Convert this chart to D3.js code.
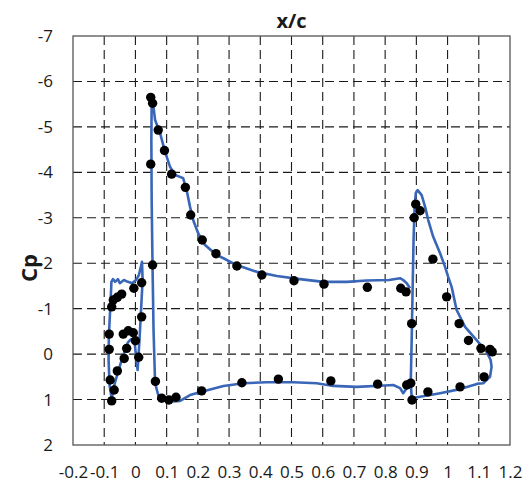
<!DOCTYPE html>
<html>
<head>
<meta charset="utf-8">
<script src="https://cdn.jsdelivr.net/npm/d3@7"></script>
<style>
  html, body { margin: 0; padding: 0; background: #fff; }
  svg { display: block; font-family: "Open Sans", "Noto Sans", sans-serif; }
</style>
</head>
<body>
<svg id="chart" width="526" height="484"></svg>
<script>
// Pressure coefficient around a three-element airfoil (slat, main, flap)

const xTicks = [-0.2, -0.1, 0, 0.1, 0.2, 0.3, 0.4, 0.5, 0.6, 0.7, 0.8, 0.9, 1, 1.1, 1.2];
const yTicks = [-7, -6, -5, -4, -3, -2, -1, 0, 1, 2];

// Computed Cp curves, [x/c, Cp]
const slatCurve = [
  [-0.076, 0.97], [-0.083, 0.68], [-0.086, 0.13], [-0.085, -0.42], [-0.081, -0.97],
  [-0.078, -1.41], [-0.077, -1.59], [-0.072, -1.65], [-0.065, -1.59], [-0.056, -1.65],
  [-0.050, -1.56], [-0.037, -1.63], [-0.024, -1.59], [-0.011, -1.56], [0.002, -1.63],
  [0.011, -1.74], [0.018, -1.94], [0.021, -2.03], [0.023, -1.63], [0.018, -0.97],
  [0.013, -0.31], [0.007, 0.35], [0.000, -0.09], [-0.003, -0.29], [-0.014, -0.33],
  [-0.024, -0.26], [-0.033, -0.09], [-0.049, 0.24], [-0.065, 0.61], [-0.076, 0.97]
];

const mainCurve = [
  [0.880, 0.64], [0.869, 0.75], [0.858, 0.86], [0.848, 0.75], [0.826, 0.68],
  [0.799, 0.69], [0.709, 0.72], [0.634, 0.70], [0.581, 0.64], [0.506, 0.62],
  [0.421, 0.62], [0.346, 0.64], [0.282, 0.70], [0.212, 0.83], [0.175, 0.90],
  [0.143, 1.03], [0.111, 1.05], [0.084, 1.01], [0.073, 0.90], [0.063, 0.64],
  [0.058, -0.53], [0.055, -1.85], [0.052, -3.39], [0.051, -4.71], [0.052, -5.48],
  [0.055, -5.59], [0.063, -5.15], [0.079, -4.86], [0.095, -4.45], [0.111, -4.12],
  [0.127, -3.94], [0.143, -3.90], [0.153, -3.87], [0.164, -3.61], [0.175, -3.24],
  [0.185, -2.95], [0.201, -2.66], [0.223, -2.40], [0.260, -2.18], [0.282, -2.11],
  [0.324, -1.96], [0.389, -1.81], [0.453, -1.72], [0.527, -1.65], [0.602, -1.59],
  [0.677, -1.59], [0.741, -1.62], [0.813, -1.63], [0.848, -1.67], [0.858, -1.63],
  [0.869, -1.56], [0.880, -1.45]
];

const flapCurve = [
  [0.885, 0.94], [0.882, 0.64], [0.885, -0.31], [0.888, -1.41], [0.891, -2.51],
  [0.894, -3.17], [0.898, -3.54], [0.904, -3.61], [0.917, -3.50], [0.928, -3.24],
  [0.938, -2.95], [0.954, -2.58], [0.976, -2.22], [0.992, -1.92], [1.002, -1.70],
  [1.013, -1.48], [1.029, -0.97], [1.056, -0.60], [1.093, -0.31], [1.125, -0.05],
  [1.138, 0.13], [1.141, 0.28], [1.136, 0.50], [1.114, 0.64], [1.097, 0.65],
  [1.040, 0.77], [0.976, 0.86], [0.912, 0.94], [0.885, 0.97]
];

// Measured Cp, [x/c, Cp]
const measuredX = [
  0.055, 0.020, -0.005, -0.044, -0.058, -0.071, -0.076, 0.020, -0.084, -0.039,
  -0.023, -0.007, 0.000, -0.084, -0.028, 0.0105, -0.036, -0.058, -0.081, -0.068,
  -0.076,
  0.064, 0.084, 0.107, 0.130, 0.212, 0.341, 0.458, 0.626, 0.776, 0.869,
  0.882, 0.886, 0.049, 0.055, 0.073, 0.093, 0.049, 0.116, 0.160, 0.177,
  0.214, 0.258, 0.325, 0.405, 0.508, 0.604, 0.743, 0.850, 0.867,
  0.898, 0.912, 0.893, 0.953, 0.997, 0.885, 1.037, 1.067, 1.107, 1.136,
  1.143, 1.117, 1.040, 0.937
];
const measuredCp = [
  -1.96, -1.57, -1.45, -1.32, -1.25, -1.19, -1.04, -0.82, -0.44, -0.44,
  -0.515, -0.47, -0.295, -0.105, -0.127, 0.07, 0.095, 0.37, 0.57, 0.79,
  1.03,
  0.60, 0.97, 1.01, 0.95, 0.81, 0.63, 0.55, 0.59, 0.66, 0.68,
  0.64, 1.01, -5.65, -5.52, -4.93, -4.48, -4.18, -3.96, -3.67, -3.06,
  -2.51, -2.21, -1.94, -1.74, -1.615, -1.54, -1.47, -1.45, -1.37,
  -3.30, -3.155, -3.00, -2.09, -1.26, -0.67, -0.67, -0.30, -0.127, -0.105,
  -0.05, 0.50, 0.72, 0.83
];

const plot = { left: 73, right: 510, top: 36, bottom: 445 };

const x = d3.scaleLinear().domain([-0.2, 1.2]).range([plot.left, plot.right]);
const y = d3.scaleLinear().domain([-7, 2]).range([plot.top, plot.bottom]);

const svg = d3.select("#chart");

// dashed grid
const grid = svg.append("g").attr("stroke", "#1a1a1a").attr("stroke-width", 1.1)
  .attr("stroke-dasharray", "9,5").attr("fill", "none");
grid.selectAll("line.v").data(xTicks.slice(1, -1)).join("line")
  .attr("x1", d => x(d)).attr("x2", d => x(d))
  .attr("y1", plot.top).attr("y2", plot.bottom);
grid.selectAll("line.h").data(yTicks.slice(1, -1)).join("line")
  .attr("y1", d => y(d)).attr("y2", d => y(d))
  .attr("x1", plot.left).attr("x2", plot.right);

// plot frame
svg.append("rect")
  .attr("x", plot.left).attr("y", plot.top)
  .attr("width", plot.right - plot.left).attr("height", plot.bottom - plot.top)
  .attr("fill", "none").attr("stroke", "#555").attr("stroke-width", 1.3);

// axes (labels only)
const xAxis = svg.append("g").attr("transform", `translate(0,${plot.bottom})`)
  .call(d3.axisBottom(x).tickValues(xTicks).tickSize(0).tickPadding(21).tickFormat(d => String(d)));
const yAxis = svg.append("g").attr("transform", `translate(${plot.left},0)`)
  .call(d3.axisLeft(y).tickValues(yTicks).tickSize(0).tickPadding(20).tickFormat(d => String(d)));
[xAxis, yAxis].forEach(a => {
  a.select(".domain").remove();
  a.attr("font-size", 17).attr("font-family", "'Open Sans', sans-serif");
  a.selectAll("text").attr("fill", "#1a1a1a");
});

// axis titles
svg.append("text").attr("x", (plot.left + plot.right) / 2).attr("y", 28)
  .attr("text-anchor", "middle").attr("font-size", 20).attr("font-weight", "bold")
  .attr("fill", "#1a1a1a").text("x/c");
svg.append("text").attr("transform", "translate(37,268) rotate(-90)")
  .attr("text-anchor", "middle").attr("font-size", 22).attr("font-weight", "bold")
  .attr("fill", "#1a1a1a").text("Cp");

// computed curves
const line = d3.line().x(d => x(d[0])).y(d => y(d[1]));
svg.append("g").selectAll("path").data([slatCurve, mainCurve, flapCurve]).join("path")
  .attr("d", line).attr("fill", "none").attr("stroke", "#3A66B8")
  .attr("stroke-width", 2.6).attr("stroke-linejoin", "round");

// measured points
svg.append("g").selectAll("circle").data(d3.range(measuredX.length)).join("circle")
  .attr("cx", i => x(measuredX[i])).attr("cy", i => y(measuredCp[i]))
  .attr("r", 4.7).attr("fill", "#000");
</script>
</body>
</html>
